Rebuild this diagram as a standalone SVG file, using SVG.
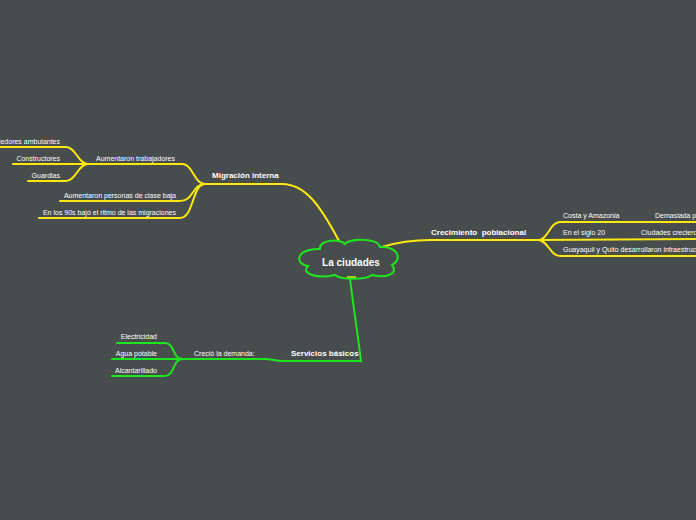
<svg xmlns="http://www.w3.org/2000/svg" width="696" height="520" viewBox="0 0 696 520">
<style>
.y{fill:none;stroke:#fbe810;stroke-width:2;stroke-linecap:round}
.g{fill:none;stroke:#1ee61e;stroke-width:2;stroke-linecap:round}
.t{font-family:"Liberation Sans",Arial,sans-serif;font-size:7px;fill:#ffffff}
.b{font-family:"Liberation Sans",Arial,sans-serif;font-size:8px;font-weight:bold;fill:#ffffff}
.e{text-anchor:end}
</style>
<rect width="696" height="520" fill="#474c4c"/>
<g id="connectors">
<path class="y" d="M339,241 C320,205 305,184 282,184 L205,184"/>
<path class="y" d="M205,184 C194,184 193,164 182,164 L86,164"/>
<path class="y" d="M88,164 C78,164 76,147 66,147 L-2,147"/>
<path class="y" d="M88,164 L13,164"/>
<path class="y" d="M88,164 C78,164 76,181 66,181 L28,181"/>
<path class="y" d="M205,184 C192,184 194,201 180,201 L60,201"/>
<path class="y" d="M205,184 C192,184 194,218 180,218 L39,218"/>
<path class="y" d="M382,247 C395,243 410,240 430,240 L538,240"/>
<path class="y" d="M538,240 C548,240 550,222 560,222 L698,222"/>
<path class="y" d="M538,240 L698,239"/>
<path class="y" d="M538,240 C548,240 550,256 560,256 L698,256"/>
<path class="g" d="M350,278 C353,305 358,335 361,361 L283,361 C275,361 273,359 265,359 L183,359"/>
<path class="g" d="M183,359 C172,359 175,343 165,343 L117,343"/>
<path class="g" d="M183,359 L112,359"/>
<path class="g" d="M183,359 C172,359 175,376 165,376 L112,376"/>
</g>
<g id="root">
<path d="M320,249 C318,240 340,238 345,244 C350,238 378,238 380,247 C396,246 404,258 392,265 C398,272 390,279 372,275 C366,280 340,280 335,275 C318,279 300,274 308,266 C294,264 296,248 320,249 Z" fill="#474c4c" stroke="#1ee61e" stroke-width="2"/>
<line x1="347" y1="277" x2="356" y2="277" stroke="#a0d020" stroke-width="2"/>
<text x="351" y="266" text-anchor="middle" font-family="Liberation Sans, Arial, sans-serif" font-size="10" font-weight="bold" fill="#ffffff">La ciudades</text>
</g>
<g id="migracion"><text class="b" x="212" y="178">Migración interna</text></g>
<g id="trabajadores"><text class="t e" x="175" y="161">Aumentaron trabajadores</text></g>
<g id="vendedores"><text class="t e" x="60" y="144">Vendedores ambulantes</text></g>
<g id="constructores"><text class="t e" x="60" y="161">Constructores</text></g>
<g id="guardias"><text class="t e" x="60" y="178">Guardias</text></g>
<g id="clasebaja"><text class="t e" x="176" y="197.5">Aumentaron personas de clase baja</text></g>
<g id="noventas"><text class="t e" x="176" y="214.5">En los 90s bajó el ritmo de las migraciones</text></g>
<g id="crecimiento"><text class="b" x="431" y="235" xml:space="preserve">Crecimiento  poblacional</text></g>
<g id="costa"><text class="t" x="563" y="218">Costa y Amazonia</text></g>
<g id="demasiada"><text class="t" x="655" y="218">Demasiada población</text></g>
<g id="siglo"><text class="t" x="563" y="235">En el siglo 20</text></g>
<g id="ciudades"><text class="t" x="641" y="235">Ciudades crecieron</text></g>
<g id="guayaquil"><text class="t" x="563" y="252">Guayaquil y Quito desarrollaron infraestructura</text></g>
<g id="servicios"><text class="b" x="291" y="356">Servicios básicos</text></g>
<g id="demanda"><text class="t" x="194" y="355.5">Creció la demanda:</text></g>
<g id="electricidad"><text class="t e" x="157" y="339">Electricidad</text></g>
<g id="agua"><text class="t e" x="157" y="356">Agua potable</text></g>
<g id="alcantarillado"><text class="t e" x="157" y="373">Alcantarillado</text></g>
</svg>
